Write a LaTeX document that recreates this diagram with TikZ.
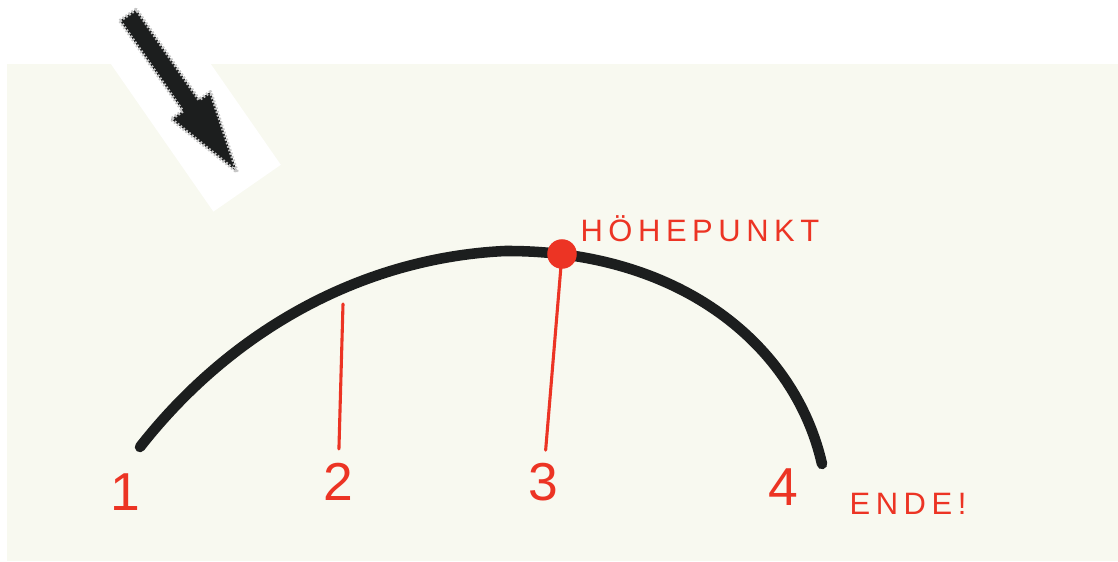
\documentclass[tikz,border=0pt]{standalone}
\usepackage{fontspec}
\setsansfont{Liberation Sans}
\usetikzlibrary{positioning,calc}
\definecolor{paper}{RGB}{248,249,240}
\definecolor{pen}{RGB}{236,52,36}
\definecolor{ink}{RGB}{28,30,30}
\tikzset{
  bogen/.style={draw=ink, line width=7.5pt, line cap=round},
  redline/.style={draw=pen, line width=2.2pt, line cap=round},
  num/.style={text=pen, inner sep=0pt,
              font=\sffamily\fontsize{38}{38}\selectfont},
  note/.style={text=pen, inner sep=0pt,
               font=\sffamily\fontsize{22}{22}\selectfont\addfontfeature{LetterSpace=18}},
  sticker/.style={fill=white, draw=none},
  bigarr/.style={fill=ink, draw=gray!45, line width=2.4pt,
                 dash pattern=on 1.3pt off 1.3pt, line join=round}
}
\begin{document}
\begin{tikzpicture}[x=0.025cm, y=-0.025cm]
\useasboundingbox (0,0) rectangle (1118,561);
% paper
\fill[white] (0,0) rectangle (1118,561);
\fill[paper] (7,64) rectangle (1118,561);
% arrow sticker
\fill[sticker] (70.7,6.1) -- (138.1,-40.7) -- (280.8,164.8) -- (213.4,211.6) -- cycle;
\draw[bigarr] (119.8,20.7) -- (136.2,9.3) -- (199.0,99.7) -- (210.5,91.7)
  -- (237.1,172.0) -- (171.1,119.1) -- (182.6,111.1) -- cycle;
% curve
\draw[bogen] (140,447) .. controls (230,332) and (360,258) .. (505,251)
  .. controls (680,250) and (795,345) .. (822,464);
% points
\coordinate (t2) at (343,304);
\node[circle, fill=pen, inner sep=0pt, minimum size=21pt] (hoch) at (562,254) {};
\node[num] (n1) at (125,492) {1};
\node[num] (n2) at (338,482) {2};
\node[num] (n3) at (543,482) {3};
\node[num] (n4) at (783,487) {4};
\node[note] (gipfel) at (700,229) {HÖHEPUNKT};
\node[note] (ende) at (908,504) {ENDE!};
\draw[redline, shorten >=10pt] (t2) -- (n2);
\draw[redline, shorten >=9pt] (hoch.center) -- (n3);
\end{tikzpicture}
\end{document}
